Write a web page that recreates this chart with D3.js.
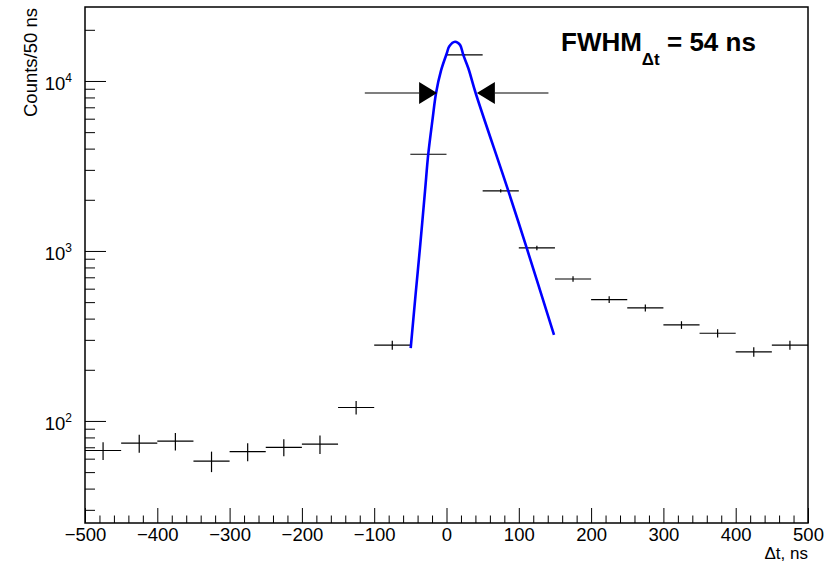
<!DOCTYPE html>
<html>
<head>
<meta charset="utf-8">
<script src="https://cdn.jsdelivr.net/npm/d3@7"></script>
<style>
    body { margin: 0; background: #fff; }
    text { font-family: 'Liberation Sans', Arial, sans-serif; }
</style>
</head>
<body>
<div id="chart"></div>
<script>

// histogram bins (50 ns wide)
const binCenters = [-475, -425, -375, -325, -275, -225, -175, -125, -75, -25,
    25, 75, 125, 175, 225, 275, 325, 375, 425, 475];
const counts = [67, 74, 76, 58, 66, 70, 73, 120, 279, 3706,
    14230, 2256, 1042, 684, 518, 463, 367, 328, 255, 279];
const errors = [8, 9, 9, 8, 8, 8, 9, 11, 17, 61,
    119, 48, 32, 26, 23, 22, 19, 18, 16, 17];
const binWidth = 50;

// fitted curve
const fitT = [-49.5, -42.6, -36.7, -29.7, -25.2, -19.1, -14.5, -7.6, 0.3, 3.9, 11.8,
    18.7, 23.2, 30.2, 40.4, 85.5, 110.9, 148.7];
const fitV = [268, 564, 1042, 2256, 3720, 6040, 8470, 11500, 14500, 16000, 17020,
    16300, 14230, 11880, 8470, 2256, 1042, 321];

// FWHM arrows: [line start, tip]
const arrowLeft = [-113, -13];
const arrowRight = [141, 42];
const arrowLevel = 8500;

const xMajor = [-500, -400, -300, -200, -100, 0, 100, 200, 300, 400, 500];
const xMinor = d3.range(-500, 501, 20).filter(v => v % 100 !== 0);
const yMajor = [100, 1000, 10000];
const yMinor = [30, 40, 50, 60, 70, 80, 90, 200, 300, 400, 500, 600, 700, 800, 900,
    2000, 3000, 4000, 5000, 6000, 7000, 8000, 9000, 20000];

const xDomain = [-500, 500];
const yDomain = [25.1, 27240];

const width = 833;
const height = 563;
const margins = { top: 7, right: 25, bottom: 40, left: 85 };
const innerW = width - margins.left - margins.right;
const innerH = height - margins.top - margins.bottom;

const svg = d3.select('#chart').append('svg')
    .attr('width', width)
    .attr('height', height);

const canvas = svg.append('g')
    .attr('transform', `translate(${margins.left}, ${margins.top})`);

const xScale = d3.scaleLinear().domain(xDomain).range([0, innerW]);
const yScale = d3.scaleLog().domain(yDomain).range([innerH, 0]);

// frame
canvas.append('rect')
    .attr('width', innerW)
    .attr('height', innerH)
    .attr('fill', 'none')
    .attr('stroke', 'black')
    .attr('stroke-width', 1.5);

// x axis
const xAxis = canvas.append('g')
    .attr('transform', `translate(0, ${innerH})`)
    .call(d3.axisBottom(xScale).tickValues(xMajor).tickSize(-15).tickPadding(5)
        .tickFormat(d => d < 0 ? '\u2212' + Math.abs(d) : d));
xAxis.select('.domain').remove();
xAxis.selectAll('text').style('font-size', '18.5px').attr('fill', 'black');

const xAxisMinor = canvas.append('g')
    .attr('transform', `translate(0, ${innerH})`)
    .call(d3.axisBottom(xScale).tickValues(xMinor).tickSize(-7.5).tickFormat(''));
xAxisMinor.select('.domain').remove();

xAxis.append('text')
    .attr('x', innerW)
    .attr('y', 36)
    .attr('text-anchor', 'end')
    .attr('fill', 'black')
    .style('font-size', '17px')
    .text('\u0394t, ns');

// y axis
const yAxis = canvas.append('g')
    .call(d3.axisLeft(yScale).tickValues(yMajor).tickSize(-21).tickPadding(13)
        .tickFormat(() => '10'));
yAxis.select('.domain').remove();
yAxis.selectAll('.tick text')
    .attr('dy', 9)
    .attr('fill', 'black')
    .style('font-size', '18.5px')
    .append('tspan')
    .attr('dy', -8)
    .style('font-size', '12px')
    .text(d => Math.round(Math.log10(d)));

const yAxisMinor = canvas.append('g')
    .call(d3.axisLeft(yScale).tickValues(yMinor).tickSize(-10).tickFormat(''));
yAxisMinor.select('.domain').remove();

svg.append('text')
    .attr('transform', `translate(37, ${margins.top + 1})rotate(-90)`)
    .attr('text-anchor', 'end')
    .attr('fill', 'black')
    .style('font-size', '18.5px')
    .text('Counts/50 ns');

// data points with error bars
const pts = canvas.append('g')
    .attr('stroke', 'black')
    .attr('stroke-width', 1.2);

pts.selectAll('line.h')
    .data(binCenters)
    .enter()
    .append('line')
    .attr('class', 'h')
    .attr('x1', d => xScale(d - binWidth / 2))
    .attr('x2', d => xScale(d + binWidth / 2))
    .attr('y1', (d, i) => yScale(counts[i]))
    .attr('y2', (d, i) => yScale(counts[i]));

pts.selectAll('line.v')
    .data(binCenters)
    .enter()
    .append('line')
    .attr('class', 'v')
    .attr('x1', d => xScale(d))
    .attr('x2', d => xScale(d))
    .attr('y1', (d, i) => yScale(counts[i] - errors[i]))
    .attr('y2', (d, i) => yScale(counts[i] + errors[i]));

// fit curve
const fitLine = d3.line()
    .x((d, i) => xScale(fitT[i]))
    .y((d, i) => yScale(fitV[i]))
    .curve(d3.curveCatmullRom.alpha(0.5));

canvas.append('path')
    .datum(fitT)
    .attr('d', fitLine)
    .attr('fill', 'none')
    .attr('stroke', '#0000ff')
    .attr('stroke-width', 2.6);

// FWHM arrows
const headLen = 18;
const headHalf = 11;
[arrowLeft, arrowRight].forEach(a => {
    const x0 = xScale(a[0]);
    const tip = xScale(a[1]);
    const dir = Math.sign(tip - x0);
    const y = yScale(arrowLevel);
    canvas.append('line')
        .attr('x1', x0).attr('x2', tip - dir * headLen)
        .attr('y1', y).attr('y2', y)
        .attr('stroke', 'black')
        .attr('stroke-width', 1.2);
    canvas.append('path')
        .attr('d', `M${tip},${y}L${tip - dir * headLen},${y - headHalf}L${tip - dir * headLen},${y + headHalf}Z`)
        .attr('fill', 'black');
});

// FWHM label
const label = svg.append('text')
    .attr('x', 561)
    .attr('y', 51)
    .attr('fill', 'black')
    .style('font-size', '26px')
    .style('font-weight', 'bold');
label.append('tspan').text('FWHM');
label.append('tspan').attr('dy', 14).style('font-size', '17px').text('\u0394t');
label.append('tspan').attr('dy', -14).text(' = 54 ns');

</script>
</body>
</html>
